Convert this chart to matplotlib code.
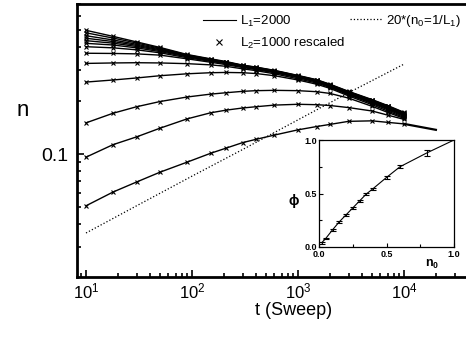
import matplotlib
matplotlib.use('Agg')
from matplotlib import pyplot as plt
from matplotlib import ticker
from matplotlib.lines import Line2D

plt.rcParams['font.family'] = ['Liberation Sans', 'DejaVu Sans']
plt.rcParams['mathtext.fontset'] = 'custom'
plt.rcParams['mathtext.rm'] = 'Liberation Sans'
plt.rcParams['mathtext.it'] = 'Liberation Sans:italic'
plt.rcParams['mathtext.bf'] = 'Liberation Sans:bold'

t = [10, 18, 30, 50, 90, 150, 210, 300, 400, 600, 1000,
     1500, 2000, 3000, 5000, 7000, 10000]

# density n(t), one list per starting density (top to bottom)
n_curves = [
    [0.500, 0.462, 0.430, 0.400, 0.365, 0.345, 0.333, 0.318, 0.310, 0.297,
     0.278, 0.263, 0.248, 0.226, 0.203, 0.188, 0.172],
    [0.484, 0.452, 0.424, 0.396, 0.363, 0.343, 0.331, 0.317, 0.309, 0.296,
     0.277, 0.262, 0.247, 0.225, 0.202, 0.187, 0.171],
    [0.466, 0.441, 0.417, 0.392, 0.361, 0.342, 0.330, 0.316, 0.308, 0.295,
     0.276, 0.261, 0.246, 0.224, 0.201, 0.186, 0.170],
    [0.451, 0.432, 0.411, 0.388, 0.359, 0.340, 0.329, 0.315, 0.307, 0.294,
     0.275, 0.260, 0.245, 0.223, 0.200, 0.185, 0.169],
    [0.437, 0.423, 0.405, 0.384, 0.357, 0.339, 0.328, 0.314, 0.306, 0.293,
     0.274, 0.259, 0.244, 0.222, 0.199, 0.184, 0.168],
    [0.422, 0.413, 0.398, 0.379, 0.354, 0.337, 0.326, 0.313, 0.305, 0.292,
     0.273, 0.258, 0.243, 0.221, 0.198, 0.183, 0.167],
    [0.404, 0.398, 0.388, 0.373, 0.350, 0.334, 0.324, 0.311, 0.303, 0.290,
     0.272, 0.257, 0.242, 0.220, 0.197, 0.182, 0.166],
    [0.371, 0.370, 0.368, 0.362, 0.345, 0.330, 0.320, 0.308, 0.300, 0.288,
     0.270, 0.255, 0.240, 0.218, 0.195, 0.180, 0.165],
    [0.325, 0.327, 0.328, 0.327, 0.324, 0.319, 0.313, 0.303, 0.296, 0.284,
     0.266, 0.252, 0.238, 0.216, 0.193, 0.178, 0.163],
    [0.255, 0.262, 0.269, 0.277, 0.284, 0.288, 0.289, 0.288, 0.285, 0.277,
     0.262, 0.248, 0.235, 0.213, 0.190, 0.175, 0.161],
    [0.150, 0.170, 0.185, 0.198, 0.210, 0.218, 0.222, 0.226, 0.228, 0.229,
     0.228, 0.225, 0.220, 0.207, 0.186, 0.172, 0.159],
    [0.096, 0.113, 0.125, 0.140, 0.158, 0.171, 0.177, 0.182, 0.185, 0.189,
     0.191, 0.190, 0.188, 0.183, 0.175, 0.166, 0.157],
    [0.051, 0.061, 0.0695, 0.079, 0.090, 0.101, 0.108, 0.116, 0.121, 0.128,
     0.137, 0.143, 0.147, 0.153, 0.154, 0.151, 0.148],
]
# lowest L1 curve runs on past the others
t_tail = [10000, 20000]
n_tail = [0.148, 0.137]

# 20*(n0=1/L1)
t_single = [10, 30, 100, 300, 1000, 3000, 10000]
n_single = [0.0358, 0.051, 0.075, 0.106, 0.156, 0.222, 0.322]

# inset: phi vs n0
n0 = [0.02, 0.05, 0.1, 0.15, 0.2, 0.25, 0.3, 0.35, 0.4, 0.5, 0.6, 0.8]
phi = [0.04, 0.08, 0.16, 0.235, 0.30, 0.365, 0.43, 0.495, 0.545, 0.65,
       0.75, 0.88]
phi_err = [0.01, 0.008, 0.008, 0.008, 0.008, 0.008, 0.008, 0.008, 0.008,
           0.01, 0.015, 0.03]
n0_end = 1.0
phi_end = 1.0


fig = plt.figure(figsize=(4.66, 3.41), dpi=100)
ax = fig.add_axes([77 / 466, 64 / 341, 393 / 466, 273 / 341])

for n in n_curves:
    ax.plot(t, n, '-', color='k', lw=1.0, zorder=2)
    ax.plot(t, n, 'x', color='k', ms=3.3, mew=0.8, zorder=3)
ax.plot(t_tail, n_tail, '-', color='k', lw=1.6, zorder=2)
ax.plot(t_single, n_single, ':', color='k', lw=0.9, zorder=2)

ax.set_xscale('log')
ax.set_yscale('log')
ax.set_xlim(8.225, 41950)
ax.set_ylim(0.0202, 0.704)

ax.yaxis.set_major_locator(ticker.FixedLocator([0.1]))
ax.yaxis.set_major_formatter(ticker.FixedFormatter(['0.1']))
ax.yaxis.set_minor_locator(ticker.LogLocator(subs=range(2, 10)))
ax.yaxis.set_minor_formatter(ticker.NullFormatter())
ax.xaxis.set_minor_formatter(ticker.NullFormatter())

for s in ax.spines.values():
    s.set_linewidth(2.0)
ax.tick_params(which='both', direction='in', top=False, right=False,
               width=1.2)
ax.tick_params(which='major', length=5)
ax.tick_params(which='minor', length=3)
ax.tick_params(axis='x', labelsize=12, pad=3)
ax.tick_params(axis='y', labelsize=14, pad=6)

ax.set_xlabel('t (Sweep)', fontsize=13)
ax.xaxis.set_label_coords(0.551, -0.122)
ax.xaxis.label.set_va('center')
ax.set_ylabel('n', fontsize=16, rotation=0)
ax.yaxis.set_label_coords(-0.137, 0.61)
ax.yaxis.label.set_va('center')

h1 = Line2D([], [], color='k', lw=0.8)
h2 = Line2D([], [], color='k', ls='none', marker='x', ms=4, mew=0.8)
leg1 = ax.legend([h1, h2], ['L$_1$=2000', 'L$_2$=1000 rescaled'],
                 loc='upper left', bbox_to_anchor=(203 / 466, 327 / 341),
                 bbox_transform=fig.transFigure, frameon=False,
                 fontsize=9.5, handlelength=2.5, handletextpad=0.3,
                 labelspacing=0.5, borderpad=0, borderaxespad=0)
ax.add_artist(leg1)
h3 = Line2D([], [], color='k', ls=':', lw=0.9)
ax.legend([h3], ['20*(n$_0$=1/L$_1$)'], loc='upper left',
          bbox_to_anchor=(350 / 466, 328 / 341),
          bbox_transform=fig.transFigure, frameon=False, fontsize=9.5,
          handlelength=2.4, handletextpad=0.3, borderpad=0,
          borderaxespad=0)

# inset
ins = fig.add_axes([319 / 466, 94 / 341, 135 / 466, 107 / 341])
ins.set_facecolor('white')
ins.plot(n0 + [n0_end], phi + [phi_end], '-', color='k', lw=0.8)
ins.errorbar(n0, phi, yerr=phi_err, fmt='none', ecolor='k', elinewidth=0.8,
             capsize=2.5, capthick=0.8)
ins.set_xlim(0, 1)
ins.set_ylim(0, 1)
ins.xaxis.set_major_locator(ticker.FixedLocator([0, 0.5, 1]))
ins.yaxis.set_major_locator(ticker.FixedLocator([0, 0.5, 1]))
ins.xaxis.set_minor_locator(ticker.FixedLocator([0.25, 0.75]))
ins.yaxis.set_minor_locator(ticker.FixedLocator([0.25, 0.75]))
ins.xaxis.set_major_formatter(ticker.FormatStrFormatter('%.1f'))
ins.yaxis.set_major_formatter(ticker.FormatStrFormatter('%.1f'))
for s in ins.spines.values():
    s.set_linewidth(0.9)
ins.tick_params(which='both', direction='in', top=False, right=False,
                width=0.8, labelsize=6.5, pad=1.5)
ins.tick_params(which='major', length=3)
ins.tick_params(which='minor', length=2)
ins.tick_params(axis='x', pad=2.5)
for lab in ins.get_xticklabels() + ins.get_yticklabels():
    lab.set_fontweight('bold')
ins.set_ylabel('\u03d5', fontsize=10, fontweight='bold', rotation=0)
ins.yaxis.set_label_coords(-0.19, 0.43)
ins.yaxis.label.set_va('center')
ins.set_xlabel(r'n$_\mathbf{0}$', fontsize=9, fontweight='bold')
ins.xaxis.set_label_coords(0.84, -0.16)
ins.xaxis.label.set_va('center')

fig.savefig('out.png', dpi=100)
